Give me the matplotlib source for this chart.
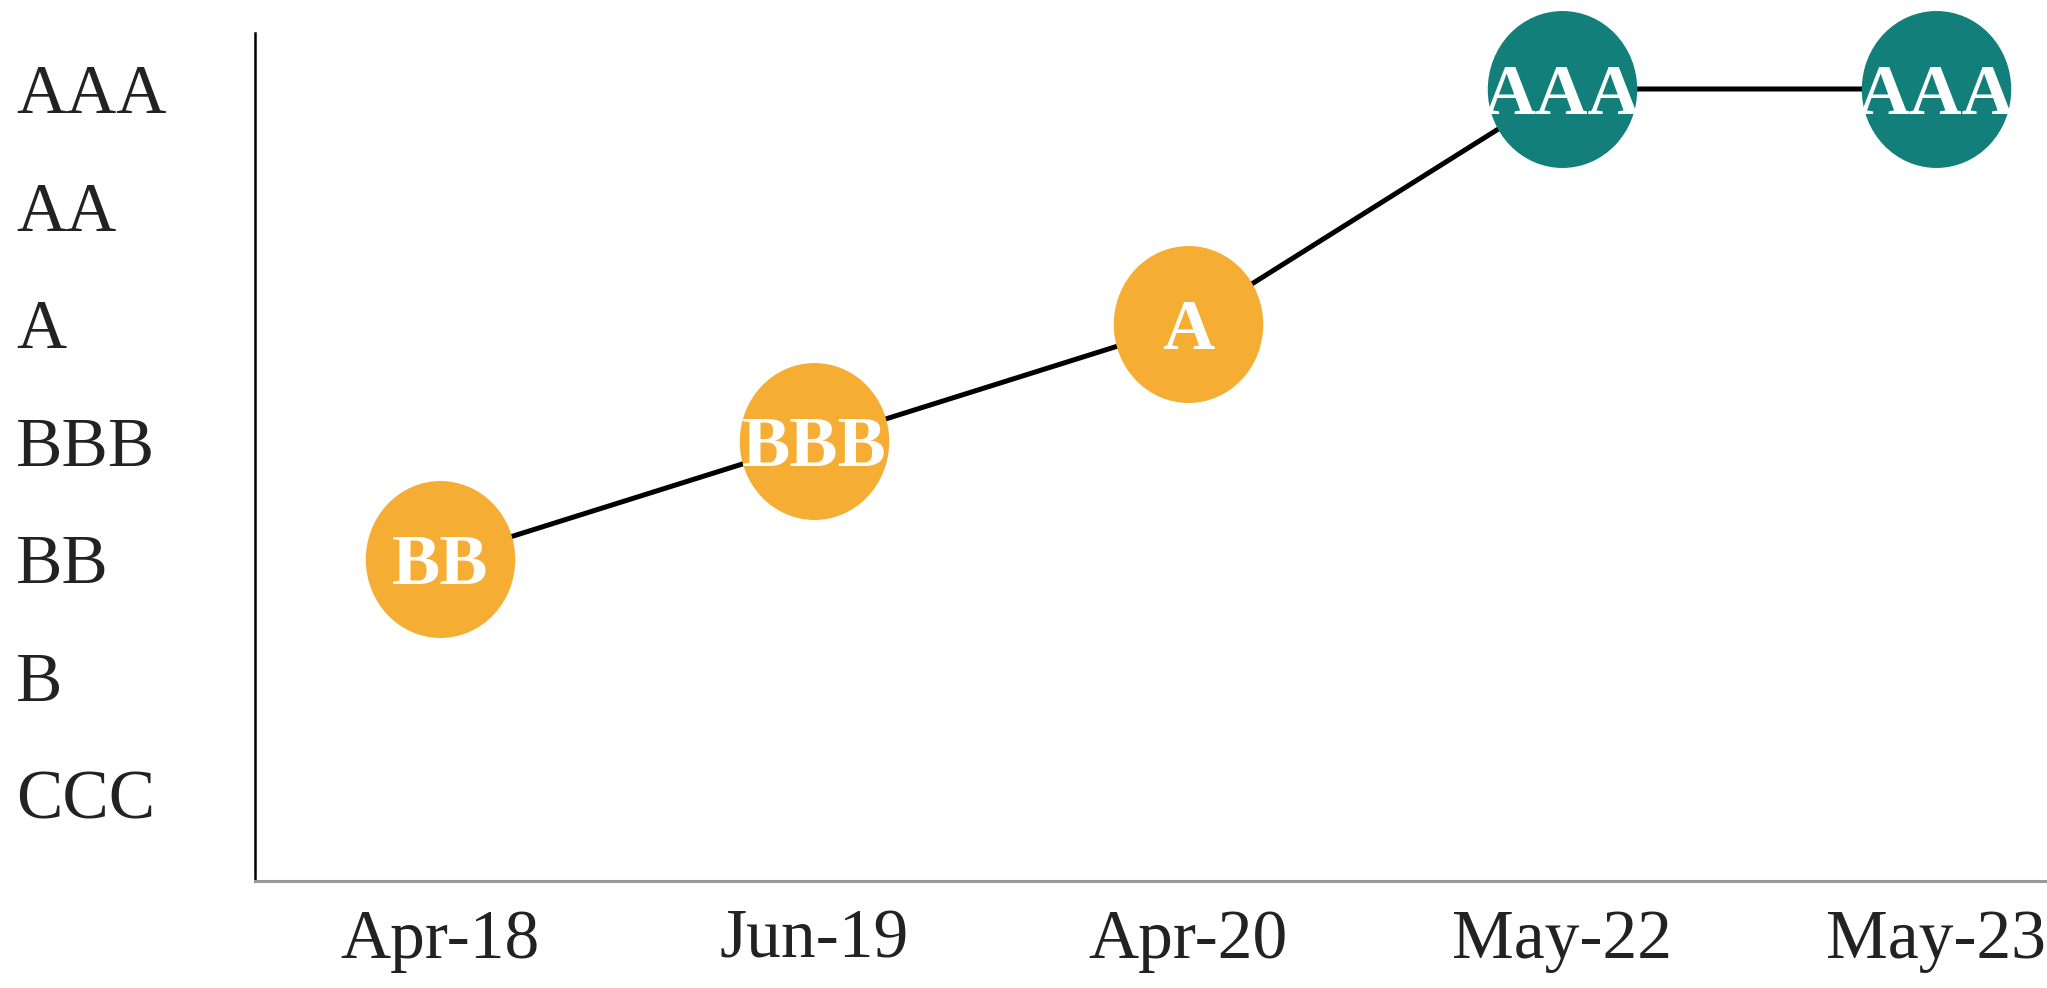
import numpy as np
import matplotlib.pyplot as plt
from matplotlib.path import Path
from matplotlib.transforms import Affine2D

# rating history
dates = ["Apr-18", "Jun-19", "Apr-20", "May-22", "May-23"]
ratings = ["BB", "BBB", "A", "AAA", "AAA"]
scale = ["CCC", "B", "BB", "BBB", "A", "AA", "AAA"]
colors = ["#F5AE33", "#F5AE33", "#F5AE33", "#137F7A", "#137F7A"]

plt.rcParams['font.family'] = ['Liberation Serif', 'DejaVu Serif']

x = np.arange(len(dates))
y = np.array([scale.index(r) for r in ratings])

fig = plt.figure(figsize=(20.47, 9.88), dpi=100)
ax = fig.add_axes([0.1245, 0.108, 0.8755, 0.859])

# slightly tall ellipse as marker
oval = Path.unit_circle().transformed(Affine2D().scale(1.0, 1.05))

ax.plot(x, y, color="black", linewidth=3.6, zorder=1)
for xi, yi, c, r in zip(x, y, colors, ratings):
    ax.plot(xi, yi, marker=oval, markersize=113, color=c,
            markeredgewidth=0, zorder=2, clip_on=False)
    ax.text(xi, yi, r, ha="center", va="center_baseline", color="white",
            fontsize=52, fontweight="bold", zorder=3)

ax.set_xlim(-0.496, 4.297)
ax.set_ylim(-0.744, 6.48)

ax.set_xticks(x)
ax.set_xticklabels(dates, fontsize=50, color="#222222")
ax.set_yticks(range(len(scale)))
ax.set_yticklabels(scale, fontsize=50, color="#222222", ha="left")
ax.tick_params(axis="both", length=0)
ax.tick_params(axis="x", pad=20)
ax.tick_params(axis="y", pad=172)

for s in ["top", "right"]:
    ax.spines[s].set_visible(False)
ax.spines["left"].set_color("black")
ax.spines["left"].set_linewidth(1.8)
ax.spines["bottom"].set_color("#9a9a9a")
ax.spines["bottom"].set_linewidth(2.2)

fig.savefig("out.png", dpi=100)
